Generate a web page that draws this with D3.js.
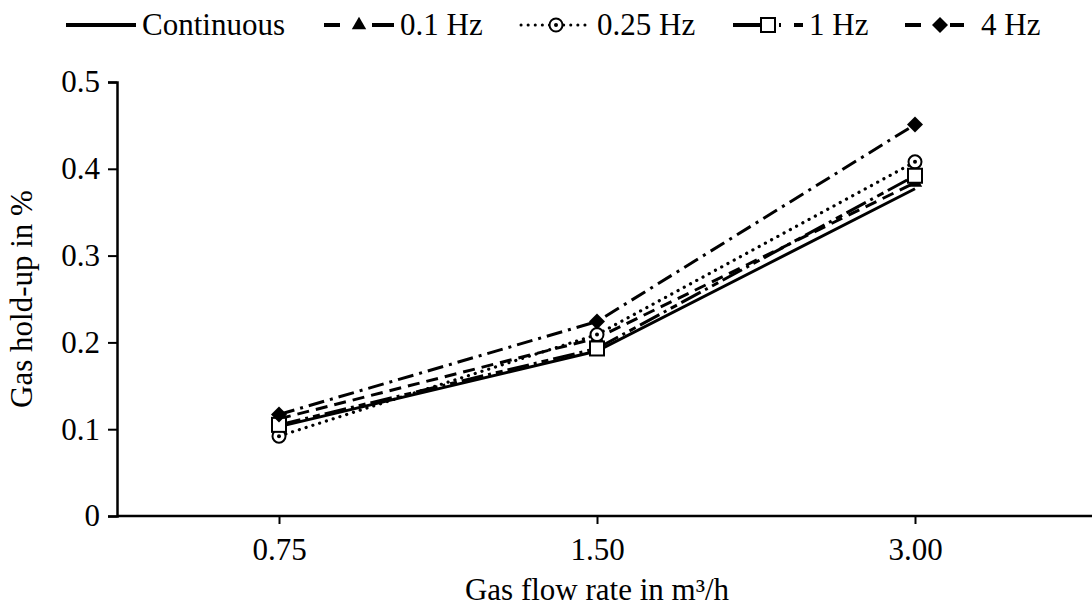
<!DOCTYPE html>
<html>
<head>
<meta charset="utf-8">
<script src="https://cdn.jsdelivr.net/npm/d3@7"></script>
<style>
  body { margin: 0; background: #fff; }
  svg { display: block; font-family: "Liberation Serif", "Times New Roman", serif; }
</style>
</head>
<body>
<div id="chart"></div>
<script>
// flow rates (categories) and gas hold-up per pulsation frequency
const categories = ["0.75", "1.50", "3.00"];
const continuous = [0.103, 0.190, 0.377];
const hz01 = [0.112, 0.205, 0.384];
const hz025 = [0.092, 0.209, 0.408];
const hz1 = [0.105, 0.193, 0.392];
const hz4 = [0.117, 0.224, 0.451];
const yTicks = [0, 0.1, 0.2, 0.3, 0.4, 0.5];

const series = [
    {name: "Continuous", values: continuous, dash: null, legendDash: null, cap: "butt", marker: null},
    {name: "0.1 Hz", values: hz01, dash: "12,7", legendDash: "16,32,22", cap: "butt", marker: "triangle"},
    {name: "0.25 Hz", values: hz025, dash: "0.1,7", legendDash: "0.1,7", cap: "round", marker: "circle"},
    {name: "1 Hz", values: hz1, dash: "22,5,3,5,7,5", legendDash: "43,3,2,13,11", cap: "butt", marker: "square"},
    {name: "4 Hz", values: hz4, dash: "16,6,3,6", legendDash: "16,29,14", cap: "butt", marker: "diamond"}
];

const width = 1092, height = 610;
const margin = {top: 82, right: 0, bottom: 94, left: 117};
const plotW = width - margin.left - margin.right;
const plotH = height - margin.top - margin.bottom;
const fontSize = "31px";

let svg = d3.select("#chart")
    .append("svg")
        .attr("width", width)
        .attr("height", height);

let g = svg.append("g")
    .attr("transform", "translate(" + margin.left + "," + margin.top + ")");

let x = d3.scalePoint()
    .domain(categories)
    .range([3, 957])
    .padding(0.5);

let y = d3.scaleLinear()
    .domain([0, 0.5])
    .range([plotH, 0]);

// x axis
let xAxis = g.append("g")
    .attr("transform", "translate(0," + plotH + ")")
    .call(d3.axisBottom(x).tickSize(8).tickPadding(14));
xAxis.select(".domain").remove();
xAxis.append("line")
    .attr("x1", 0).attr("x2", plotW)
    .attr("stroke", "#000").attr("stroke-width", 2.5);

// y axis
let yAxis = g.append("g")
    .call(d3.axisLeft(y).tickValues(yTicks).tickSize(9).tickPadding(8)
        .tickFormat(d => d === 0 ? "0" : d3.format(".1f")(d)));
yAxis.select(".domain").attr("stroke-width", 2.5);

svg.selectAll(".tick line").attr("stroke", "#000").attr("stroke-width", 2);
svg.selectAll(".tick text")
    .attr("fill", "#000")
    .style("font-family", "Liberation Serif")
    .style("font-size", fontSize);

// lines
let line = d3.line()
    .x((d, i) => x(categories[i]))
    .y(d => y(d));

series.forEach(s => {
    g.append("path")
        .datum(s.values)
        .attr("d", line)
        .attr("fill", "none")
        .attr("stroke", "#000")
        .attr("stroke-width", s.marker === "circle" ? 3.2 : 3)
        .attr("stroke-linecap", s.cap)
        .attr("stroke-dasharray", s.dash);
});

function drawMarker(sel, type, cx, cy) {
    if (type === "triangle") {
        sel.append("path")
            .attr("d", d3.symbol(d3.symbolTriangle, 90)())
            .attr("transform", `translate(${cx},${cy})`)
            .attr("fill", "#000");
    } else if (type === "circle") {
        sel.append("circle")
            .attr("cx", cx).attr("cy", cy).attr("r", 6.5)
            .attr("fill", "#fff").attr("stroke", "#000").attr("stroke-width", 2);
        sel.append("circle")
            .attr("cx", cx).attr("cy", cy).attr("r", 2)
            .attr("fill", "#000");
    } else if (type === "square") {
        sel.append("rect")
            .attr("x", cx - 7).attr("y", cy - 7)
            .attr("width", 14).attr("height", 14)
            .attr("fill", "#fff").attr("stroke", "#000").attr("stroke-width", 2);
    } else if (type === "diamond") {
        sel.append("path")
            .attr("d", `M0,-8L8,0L0,8L-8,0Z`)
            .attr("transform", `translate(${cx},${cy})`)
            .attr("fill", "#000");
    }
}

series.forEach(s => {
    if (!s.marker) return;
    s.values.forEach((v, i) => drawMarker(g, s.marker, x(categories[i]), y(v)));
});

// axis titles
svg.append("text")
    .attr("x", margin.left + 480)
    .attr("y", 600)
    .attr("text-anchor", "middle")
    .style("font-size", fontSize)
    .text("Gas flow rate in m³/h");

svg.append("text")
    .attr("transform", "translate(32," + (margin.top + plotH / 2) + ") rotate(-90)")
    .attr("text-anchor", "middle")
    .style("font-size", fontSize)
    .text("Gas hold-up in %");

// legend
const legendX = [66, 324, 521, 733, 905];
let legend = svg.append("g");
series.forEach((s, i) => {
    let lg = legend.append("g").attr("transform", `translate(${legendX[i]},25)`);
    lg.append("line")
        .attr("x1", 0).attr("x2", 70)
        .attr("y1", 0).attr("y2", 0)
        .attr("stroke", "#000").attr("stroke-width", s.marker === "circle" ? 3 : 4)
        .attr("stroke-linecap", s.cap)
        .attr("stroke-dasharray", s.legendDash);
    if (s.marker) drawMarker(lg, s.marker, 35, 0);
    lg.append("text")
        .attr("x", 76)
        .attr("y", 10)
        .style("font-size", fontSize)
        .text(s.name);
});
</script>
</body>
</html>
